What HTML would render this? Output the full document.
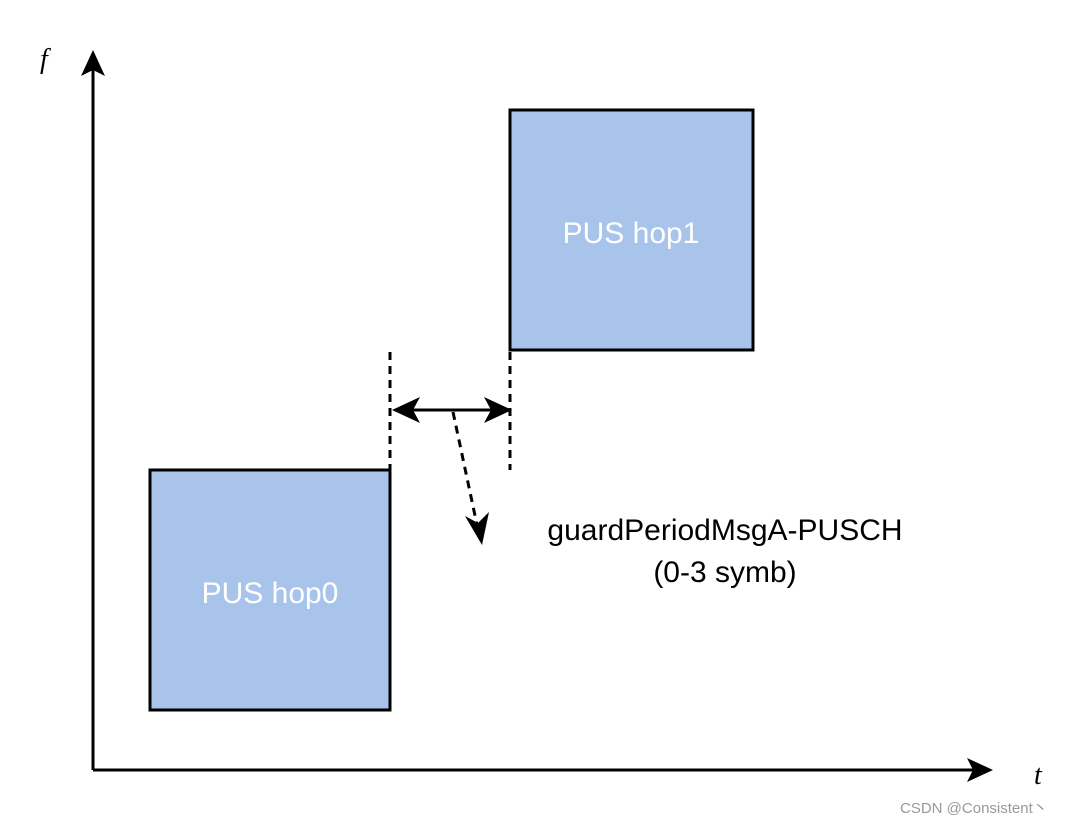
<!DOCTYPE html>
<html><head><meta charset="utf-8"><style>html,body{margin:0;padding:0;background:#fff;}svg{display:block;}</style></head>
<body>
<svg width="1087" height="824" viewBox="0 0 1087 824" xmlns="http://www.w3.org/2000/svg">
<line x1="93" y1="770" x2="93" y2="60" stroke="#000" stroke-width="3"/>
<path d="M93,50 L105,76 L93,70 L81,76 Z" fill="#000"/>
<line x1="93" y1="770" x2="983" y2="770" stroke="#000" stroke-width="3"/>
<path d="M993,770 L967,782 L973,770 L967,758 Z" fill="#000"/>
<text x="40" y="68" font-family="Liberation Serif, serif" font-style="italic" font-size="28">f</text>
<text x="1034" y="784" font-family="Liberation Serif, serif" font-style="italic" font-size="28">t</text>
<rect x="150" y="470" width="240" height="240" fill="#a9c4eb" stroke="#000" stroke-width="3"/>
<rect x="510" y="110" width="243" height="240" fill="#a9c4eb" stroke="#000" stroke-width="3"/>
<text x="270" y="603" text-anchor="middle" fill="#fff" font-family="Liberation Sans, sans-serif" font-size="30">PUS hop0</text>
<text x="631" y="243" text-anchor="middle" fill="#fff" font-family="Liberation Sans, sans-serif" font-size="30">PUS hop1</text>
<line x1="390" y1="352" x2="390" y2="470" stroke="#000" stroke-width="3" stroke-dasharray="8,6"/>
<line x1="510" y1="352" x2="510" y2="470" stroke="#000" stroke-width="3" stroke-dasharray="8,6"/>
<line x1="405" y1="410" x2="497" y2="410" stroke="#000" stroke-width="3"/>
<path d="M392,410 L420,397 L413,410 L420,423 Z" fill="#000"/>
<path d="M512,410 L484,397 L491,410 L484,423 Z" fill="#000"/>
<line x1="453" y1="412" x2="477" y2="525" stroke="#000" stroke-width="3" stroke-dasharray="8,6"/>
<path d="M482,545 L465,516 L478,523 L489,512 Z" fill="#000"/>
<text x="725" y="540" text-anchor="middle" font-family="Liberation Sans, sans-serif" font-size="30">guardPeriodMsgA-PUSCH</text>
<text x="725" y="582" text-anchor="middle" font-family="Liberation Sans, sans-serif" font-size="30">(0-3 symb)</text>
<text x="900" y="813" font-family="Liberation Sans, sans-serif" font-size="15" fill="#999">CSDN @Consistent丶</text>
</svg>
</body></html>
